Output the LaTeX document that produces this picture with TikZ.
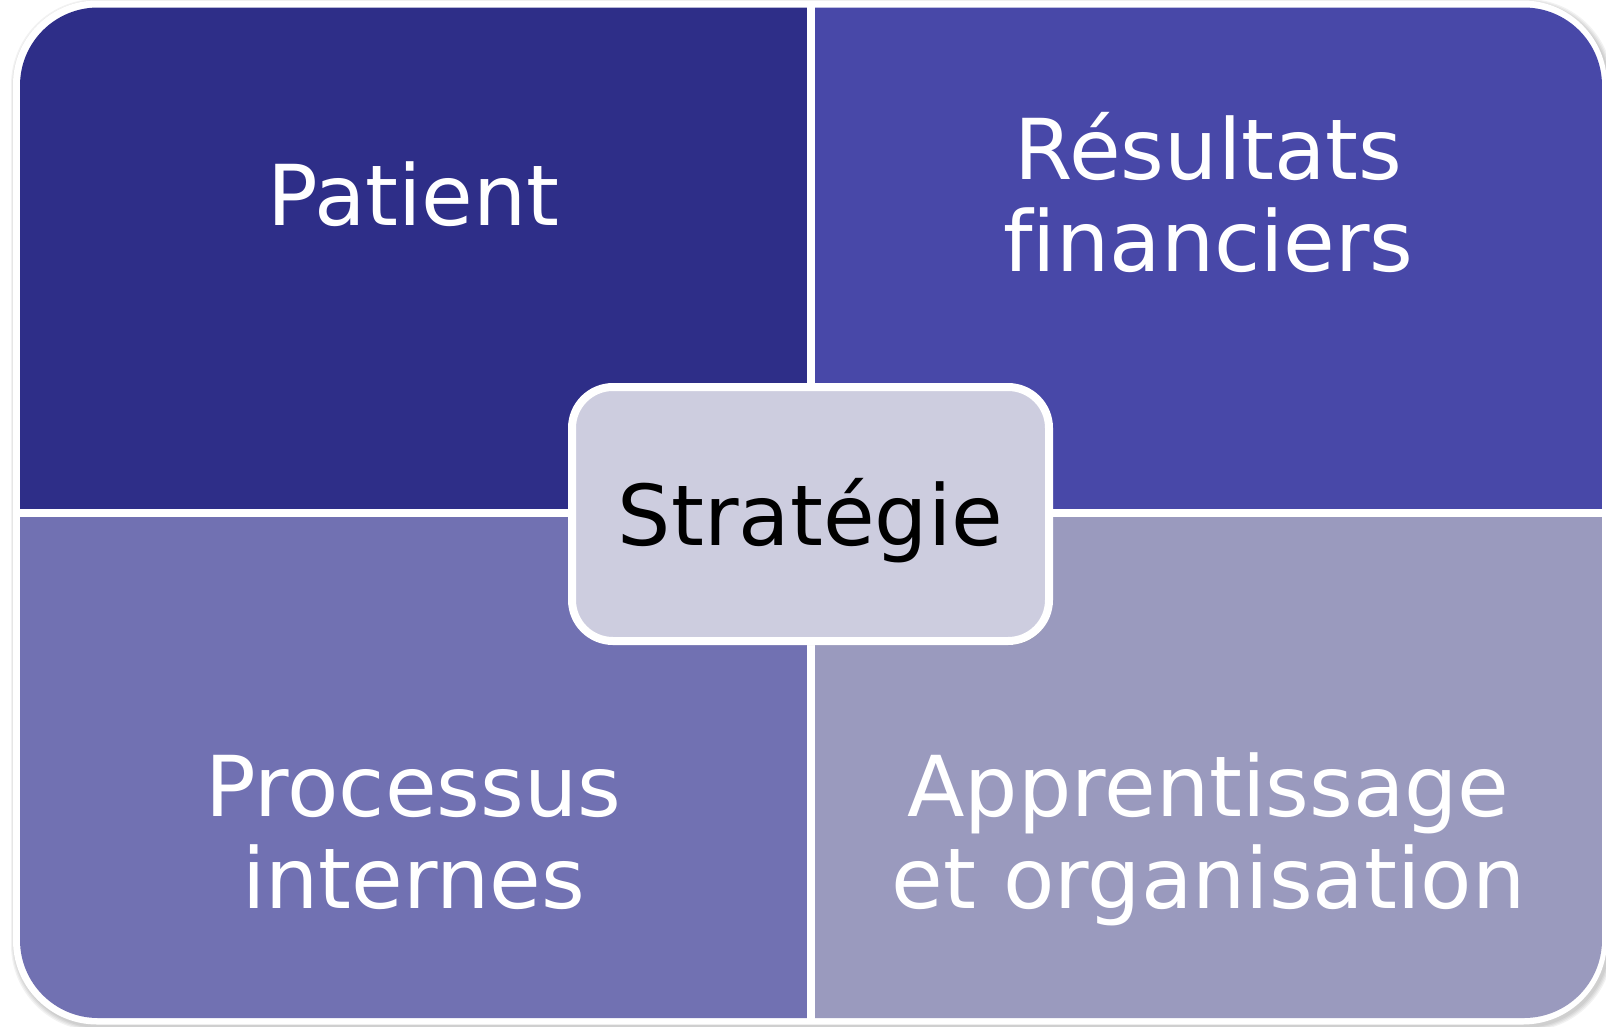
\documentclass[tikz,border=0pt]{standalone}
\usepackage{fontspec}
\setmainfont[Ligatures=NoCommon]{DejaVu Sans}
\usetikzlibrary{shadows}

\definecolor{quadA}{RGB}{46,46,136}
\definecolor{quadB}{RGB}{72,72,168}
\definecolor{quadC}{RGB}{113,113,178}
\definecolor{quadD}{RGB}{154,154,190}
\definecolor{midgray}{RGB}{205,205,223}

\begin{document}
\begin{tikzpicture}[x=1pt, y=-1pt]
  \useasboundingbox (0,0) rectangle (1606,1026);
  \tikzstyle{quad}=[rectangle, inner sep=0pt, minimum width=787pt, minimum height=502pt]
  \tikzstyle{txt}=[text=white, font=\fontsize{84}{92}\selectfont, align=center, inner sep=0pt, anchor=base]
  \tikzstyle{mid}=[rectangle, rounded corners=41pt, draw=white, line width=8pt, fill=midgray,
    minimum width=477pt, minimum height=254pt, text height=70pt, text depth=8pt,
    font=\fontsize{84}{92}\selectfont, drop shadow={shadow xshift=2pt, shadow yshift=-4pt, opacity=0.3}]

  % Schatten und weisser Rand
  \foreach \s in {1,2,3,4}
    \fill[black, opacity=0.05, rounded corners=86pt] (15-\s, 3-\s) rectangle (1609+\s, 1027+\s);
  \fill[white, rounded corners=84pt] (13,0.5) rectangle (1607,1024.5);

  % Vier Felder
  \begin{scope}
    \clip[rounded corners=78pt] (20,7.5) rectangle (1602,1018);
    \node[quad, fill=quadA] (patientbox)  at (413.5, 258.25) {};
    \node[quad, fill=quadB] (financebox)  at (1208.5,258.25) {};
    \node[quad, fill=quadC] (processbox)  at (413.5, 767.5)  {};
    \node[quad, fill=quadD] (learningbox) at (1208.5,767.5)  {};
  \end{scope}

  % anchor=base liegt auf der letzten Zeile
  \node[txt] (patient)       at (413.5, 225) {Patient};
  \node[txt] (resultats)     at (1208.5,271) {Résultats\\financiers};
  \node[txt] (processus)     at (413.5, 908) {Processus\\internes};
  \node[txt] (apprentissage) at (1208.5,908) {Apprentissage\\et organisation};

  % Mitte
  \node[mid] (strategie) at (810.5,514) {Stratégie};
\end{tikzpicture}
\end{document}
